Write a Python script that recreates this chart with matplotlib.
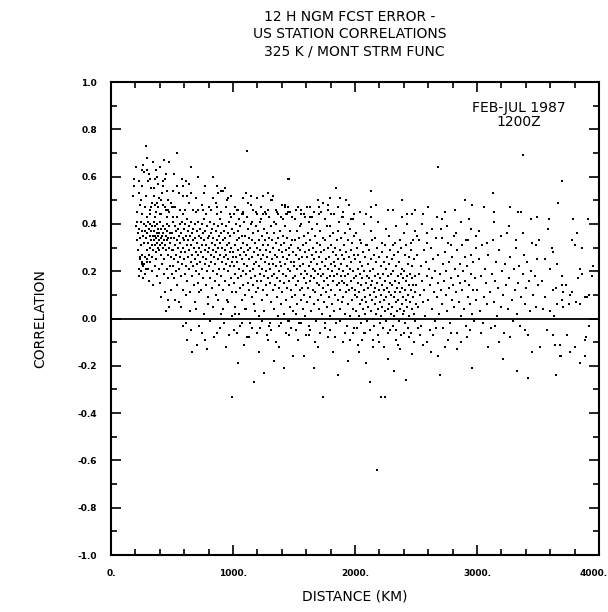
import numpy as np
import matplotlib
matplotlib.use("Agg")
import matplotlib.pyplot as plt
from matplotlib.ticker import MultipleLocator
from matplotlib.transforms import ScaledTranslation

# station pairs: (distance km, correlation), grouped by distance band
band_0500 = [
    (287, .73), (205, .64), (265, .65), (254, .63), (292, .63), (369, .63), (402, .64), (292, .68),
    (342, .66), (437, .67), (478, .66), (189, .59), (232, .58), (306, .58), (320, .59), (358, .59),
    (374, .60), (429, .58), (440, .59), (189, .56), (325, .55), (352, .55), (424, .56), (178, .52),
    (232, .53), (352, .52), (461, .54), (281, .47), (325, .47), (361, .48), (380, .49), (407, .50),
    (443, .47), (470, .46), (320, .44), (361, .43), (402, .44), (457, .43),
    (214, .45), (236, .48), (256, .44), (276, .47), (296, .43), (318, .46), (338, .49), (368, .45),
    (384, .47), (408, .44), (426, .48), (448, .46), (476, .45), (490, .49), (244, .50), (286, .52),
    (396, .51), (418, .53), (466, .50), (254, .56), (272, .62), (314, .61), (388, .57), (454, .61),
    (203, .39), (209, .33), (215, .41), (221, .36), (224, .29), (231, .38), (236, .34), (239, .25),
    (243, .41), (247, .31), (250, .23), (255, .37), (258, .27), (261, .35), (264, .22), (269, .40),
    (271, .32), (276, .26), (279, .37), (283, .21), (285, .34), (289, .39), (293, .29), (296, .24),
    (299, .36), (303, .41), (306, .32), (309, .27), (313, .38), (316, .35), (319, .30), (323, .40),
    (327, .33), (330, .37), (333, .26), (336, .31), (340, .39), (343, .35), (346, .29), (349, .41),
    (352, .33), (355, .37), (358, .31), (361, .35), (364, .39), (367, .28), (370, .34), (373, .36),
    (376, .32), (379, .40), (382, .30), (385, .35), (388, .38), (391, .33), (394, .29), (397, .36),
    (400, .41), (404, .31), (407, .34), (410, .38), (413, .27), (417, .35), (420, .32), (423, .39),
    (427, .30), (430, .36), (433, .33), (437, .25), (440, .38), (444, .31), (447, .35), (451, .29),
    (455, .40), (458, .33), (462, .37), (466, .27), (469, .34), (473, .30), (477, .39), (481, .32),
    (485, .36), (489, .26), (493, .34), (497, .29),
    (226, .21), (233, .18), (241, .26), (249, .20), (256, .24), (263, .17), (272, .23), (281, .19),
    (291, .25), (302, .21), (311, .16), (321, .24), (334, .20), (344, .14), (357, .22), (369, .25),
    (378, .18), (393, .21), (405, .15), (419, .23), (431, .19), (446, .11), (457, .21), (463, .08),
    (471, .17), (479, .05), (486, .22), (494, .12), (499, .19), (452, .03), (412, .09),
]

band_1000 = [
    (543, .70), (519, .61), (579, .59), (615, .58), (642, .57), (716, .60), (839, .60), (653, .64),
    (539, .56), (588, .56), (768, .56), (880, .53), (899, .54), (932, .55), (505, .54), (560, .53),
    (593, .52), (653, .53), (697, .51), (961, .51), (497, .47), (525, .47), (566, .46), (607, .46),
    (675, .46), (716, .46), (757, .46), (806, .47), (866, .47), (871, .44), (975, .44), (511, .43),
    (539, .43), (520, .47), (590, .44), (640, .49), (700, .45), (742, .48), (780, .44), (820, .46),
    (860, .49), (900, .45), (940, .47), (980, .43), (620, .52), (760, .53), (840, .51), (920, .54),
    (980, .52), (870, .56), (950, .50),
    (502, .36), (505, .22), (508, .41), (511, .29), (514, .17), (517, .34), (520, .25), (523, .39),
    (526, .31), (529, .20), (532, .37), (535, .27), (538, .43), (541, .33), (544, .14), (547, .24),
    (550, .38), (553, .30), (556, .21), (559, .35), (562, .40), (565, .26), (568, .32), (571, .18),
    (574, .36), (577, .28), (580, .41), (583, .23), (586, .34), (589, .30), (592, .12), (595, .38),
    (598, .25), (601, .33), (604, .19), (607, .40), (610, .28), (613, .35), (616, .22), (619, .31),
    (622, .42), (625, .16), (628, .37), (631, .26), (634, .33), (637, .21), (640, .39), (643, .29),
    (646, .35), (649, .11), (652, .24), (655, .41), (658, .31), (661, .18), (664, .36), (667, .27),
    (670, .33), (673, .22), (676, .38), (679, .14), (682, .30), (685, .25), (688, .40), (691, .34),
    (694, .20), (697, .28), (701, .37), (704, .23), (707, .32), (710, .15), (713, .41), (716, .27),
    (719, .35), (722, .19), (725, .30), (728, .38), (731, .24), (734, .12), (737, .34), (740, .28),
    (743, .40), (746, .21), (749, .31), (752, .36), (755, .17), (758, .26), (761, .33), (764, .42),
    (767, .23), (770, .29), (773, .37), (776, .14), (779, .31), (782, .25), (785, .39), (788, .20),
    (791, .34), (794, .28), (797, .09), (801, .35), (804, .22), (807, .30), (810, .41), (813, .17),
    (816, .27), (819, .36), (822, .24), (825, .32), (828, .13), (831, .38), (834, .29), (837, .20),
    (840, .34), (843, .26), (846, .40), (849, .16), (852, .31), (855, .23), (858, .37), (861, .28),
    (864, .10), (867, .33), (870, .19), (873, .39), (876, .25), (879, .30), (882, .14), (885, .35),
    (888, .21), (891, .42), (894, .27), (897, .32), (901, .18), (904, .36), (907, .24), (910, .30),
    (913, .40), (916, .12), (919, .33), (922, .26), (925, .21), (928, .37), (931, .29), (934, .16),
    (937, .34), (940, .23), (943, .39), (946, .27), (949, .08), (952, .31), (955, .20), (958, .36),
    (961, .25), (964, .14), (967, .32), (970, .41), (973, .22), (976, .28), (979, .35), (982, .17),
    (985, .30), (988, .24), (991, .38), (994, .11), (997, .26),
    (528, .08), (574, .05), (612, .10), (648, .03), (688, .07), (724, .11), (762, .02), (798, .06),
    (836, .05), (878, .08), (918, .04), (958, .07), (990, .01), (556, .07), (700, .04), (905, .02),
    (586, -.03), (626, -.09), (664, -.14), (702, -.11), (744, -.06), (786, -.13), (842, -.08),
    (896, -.04), (944, -.12), (990, -.33), (612, -.02), (655, -.05), (718, -.03), (771, -.09),
    (809, -.01), (865, -.06), (925, -.02), (968, -.07),
]

band_1500 = [
    (1112, .71), (1084, .51), (1148, .52), (1249, .52), (1289, .53), (1317, .50), (1399, .48),
    (1453, .59), (1016, .47), (1043, .46), (1084, .44), (1145, .48), (1167, .46), (1243, .44),
    (1289, .46), (1358, .45), (1426, .47), (1440, .44), (1434, .44), (1459, .59), (1453, .47),
    (1030, .46), (1070, .44), (1120, .49), (1190, .45), (1230, .47), (1270, .44), (1310, .50),
    (1350, .46), (1390, .43), (1430, .48), (1470, .45), (1110, .53), (1200, .51), (1330, .52),
    (1012, .44), (1047, .42), (1081, .45), (1118, .43), (1156, .41), (1193, .44), (1226, .42),
    (1262, .45), (1299, .43), (1336, .41), (1372, .44), (1411, .42), (1447, .45), (1486, .43),
    (1001, .28), (1004, .15), (1007, .36), (1010, .22), (1013, .05), (1016, .31), (1019, .19),
    (1022, .40), (1025, .26), (1028, .11), (1031, .33), (1034, .24), (1037, .17), (1040, .37),
    (1043, .29), (1046, .02), (1049, .21), (1052, .34), (1055, .13), (1058, .27), (1061, .39),
    (1064, .18), (1067, .30), (1070, .08), (1073, .25), (1076, .35), (1079, .20), (1082, .14),
    (1085, .32), (1088, .41), (1091, .23), (1094, .28), (1097, .10), (1101, .35), (1104, .19),
    (1107, .27), (1110, .04), (1113, .31), (1116, .22), (1119, .38), (1122, .15), (1125, .29),
    (1128, .25), (1131, .12), (1134, .34), (1137, .20), (1140, -.02), (1143, .30), (1146, .17),
    (1149, .40), (1152, .26), (1155, .09), (1158, .33), (1161, .21), (1164, .36), (1167, .14),
    (1170, .28), (1173, .23), (1176, .06), (1179, .32), (1182, .18), (1185, .39), (1188, .24),
    (1191, .11), (1194, .30), (1197, .16), (1201, .27), (1204, .37), (1207, .13), (1210, .22),
    (1213, .33), (1216, .01), (1219, .19), (1222, .29), (1225, .41), (1228, .16), (1231, .25),
    (1234, .08), (1237, .35), (1240, .21), (1243, .31), (1246, .12), (1249, .27), (1252, .38),
    (1255, .18), (1258, .03), (1261, .24), (1264, .33), (1267, .14), (1270, .29), (1273, .20),
    (1276, .36), (1279, .10), (1282, .26), (1285, .31), (1288, .17), (1291, -.03), (1294, .23),
    (1297, .34), (1301, .15), (1304, .28), (1307, .21), (1310, .39), (1313, .07), (1316, .25),
    (1319, .33), (1322, .18), (1325, .12), (1328, .30), (1331, .23), (1334, .36), (1337, .04),
    (1340, .19), (1343, .27), (1346, .14), (1349, .32), (1352, .22), (1355, .40), (1358, .09),
    (1361, .26), (1364, .17), (1367, .34), (1370, .01), (1373, .20), (1376, .29), (1379, .13),
    (1382, .24), (1385, .37), (1388, .16), (1391, .31), (1394, .06), (1397, .22), (1401, .28),
    (1404, .11), (1407, .35), (1410, .19), (1413, .26), (1416, .02), (1419, .32), (1422, .15),
    (1425, .23), (1428, .39), (1431, .08), (1434, .29), (1437, .18), (1440, .25), (1443, .13),
    (1446, .34), (1449, -.01), (1452, .21), (1455, .30), (1458, .16), (1461, .27), (1464, .05),
    (1467, .37), (1470, .20), (1473, .12), (1476, .31), (1479, .24), (1482, .09), (1485, .33),
    (1488, .17), (1491, .28), (1494, .03), (1497, .22),
    (1020, .02), (1060, -.03), (1100, .04), (1180, .03), (1220, -.04), (1300, -.02), (1380, -.03),
    (1460, -.01), (1004, -.05), (1040, -.19), (1090, -.11), (1130, -.08), (1170, -.27),
    (1210, -.14), (1250, -.23), (1290, -.09), (1340, -.18), (1380, -.12), (1420, -.21),
    (1460, -.07), (1490, -.16), (1035, -.06), (1075, -.02), (1115, -.08), (1155, -.04),
    (1195, -.06), (1235, -.01), (1275, -.07), (1315, -.05), (1355, -.10), (1395, -.02),
    (1435, -.06), (1475, -.04),
]

band_2000 = [
    (1844, .55), (1795, .51), (1694, .50), (1535, .47), (1555, .46), (1604, .47), (1631, .47),
    (1708, .47), (1781, .48), (1781, .46), (1590, .43), (1631, .43), (1708, .44), (1893, .43),
    (1967, .42), (1520, .46), (1560, .44), (1660, .45), (1740, .49), (1800, .44), (1860, .47),
    (1900, .45), (1950, .48), (1990, .44), (1880, .51), (1930, .50),
    (1512, .42), (1547, .39), (1583, .44), (1619, .41), (1650, .43), (1688, .40), (1721, .45),
    (1757, .42), (1792, .39), (1831, .44), (1869, .41), (1905, .43), (1944, .40), (1983, .42),
    (1501, .24), (1504, .10), (1507, .33), (1510, .18), (1513, .02), (1516, .27), (1519, .14),
    (1522, .37), (1525, .21), (1528, .06), (1531, .30), (1534, .16), (1537, .25), (1540, -.02),
    (1543, .34), (1546, .12), (1549, .22), (1552, .29), (1555, .08), (1558, .19), (1561, .40),
    (1564, .26), (1567, .13), (1570, .31), (1573, .04), (1576, .23), (1579, .17), (1582, .35),
    (1585, .10), (1588, .28), (1591, .20), (1594, .01), (1597, .15), (1601, .32), (1604, .19),
    (1607, .07), (1610, .26), (1613, .36), (1616, .13), (1619, .22), (1622, -.03), (1625, .29),
    (1628, .16), (1631, .09), (1634, .33), (1637, .24), (1640, .18), (1643, .03), (1646, .27),
    (1649, .38), (1652, .12), (1655, .21), (1658, .30), (1661, .06), (1664, .17), (1667, .25),
    (1670, .35), (1673, .11), (1676, .20), (1679, -.01), (1682, .28), (1685, .15), (1688, .23),
    (1691, .32), (1694, .08), (1697, .19), (1701, .26), (1704, .04), (1707, .14), (1710, .31),
    (1713, .21), (1716, .37), (1719, .10), (1722, .18), (1725, .28), (1728, .02), (1731, .24),
    (1734, .13), (1737, .34), (1740, .19), (1743, .07), (1746, .29), (1749, .16), (1752, .22),
    (1755, -.04), (1758, .33), (1761, .11), (1764, .25), (1767, .17), (1770, .39), (1773, .05),
    (1776, .21), (1779, .30), (1782, .14), (1785, .26), (1788, .09), (1791, .35), (1794, .18),
    (1797, .01), (1801, .23), (1804, .31), (1807, .12), (1810, .20), (1813, .06), (1816, .28),
    (1819, .16), (1822, .36), (1825, .24), (1828, .03), (1831, .18), (1834, .30), (1837, .10),
    (1840, .22), (1843, .27), (1846, -.02), (1849, .14), (1852, .33), (1855, .19), (1858, .08),
    (1861, .25), (1864, .37), (1867, .15), (1870, .21), (1873, .04), (1876, .29), (1879, .12),
    (1882, .18), (1885, .34), (1888, .23), (1891, .07), (1894, .27), (1897, .16), (1901, .20),
    (1904, .09), (1907, .31), (1910, .15), (1913, .25), (1916, .02), (1919, .36), (1922, .18),
    (1925, .11), (1928, .28), (1931, .22), (1934, -.03), (1937, .14), (1940, .33), (1943, .19),
    (1946, .06), (1949, .26), (1952, .12), (1955, .38), (1958, .21), (1961, .01), (1964, .29),
    (1967, .16), (1970, .24), (1973, .08), (1976, .32), (1979, .13), (1982, .20), (1985, .04),
    (1988, .27), (1991, .17), (1994, .35), (1997, .10),
    (1530, -.09), (1580, -.16), (1620, -.07), (1660, -.21), (1700, -.12), (1740, -.33),
    (1780, -.08), (1820, -.14), (1860, -.24), (1900, -.10), (1940, -.18), (1980, -.06),
    (1515, -.05), (1555, -.02), (1595, -.07), (1635, -.05), (1675, -.10), (1715, -.06),
    (1755, -.02), (1795, -.05), (1835, -.08), (1875, -.01), (1915, -.06), (1955, -.09),
    (1995, -.04),
]

band_2500 = [
    (2128, .54), (2388, .50), (2169, .48), (2268, .46), (2314, .46), (2044, .45), (2087, .44),
    (2128, .43), (2388, .43), (2470, .44), (2489, .46), (2040, .45), (2130, .47), (2430, .44),
    (2010, .36), (2040, .33), (2070, .40), (2100, .31), (2130, .37), (2160, .34), (2190, .41),
    (2220, .32), (2250, .38), (2280, .35), (2310, .31), (2340, .39), (2370, .33), (2400, .36),
    (2430, .40), (2460, .32), (2490, .37),
    (2001, .12), (2004, .25), (2007, .03), (2010, .18), (2013, .30), (2016, -.04), (2019, .09),
    (2022, .21), (2025, .15), (2028, .27), (2031, .01), (2034, .11), (2037, .19), (2040, .06),
    (2043, .24), (2046, .32), (2049, .14), (2052, -.02), (2055, .08), (2058, .22), (2061, .17),
    (2064, .04), (2067, .28), (2070, .12), (2073, -.06), (2076, .20), (2079, .09), (2082, .26),
    (2085, .02), (2088, .15), (2091, .31), (2094, .07), (2097, .18), (2101, -.01), (2104, .13),
    (2107, .23), (2110, .05), (2113, .17), (2116, .29), (2119, .10), (2122, -.05), (2125, .20),
    (2128, .03), (2131, .14), (2134, .25), (2137, .08), (2140, .33), (2143, .16), (2146, .00),
    (2149, .21), (2152, .11), (2155, -.03), (2158, .27), (2161, .06), (2164, .18), (2167, .13),
    (2170, .02), (2173, .24), (2176, .09), (2179, .30), (2182, .15), (2185, -.07), (2188, .19),
    (2191, .04), (2194, .12), (2197, .26), (2201, .07), (2204, .17), (2207, -.02), (2210, .22),
    (2213, .10), (2216, .01), (2219, .28), (2222, .14), (2225, .05), (2228, .19), (2231, -.04),
    (2234, .24), (2237, .08), (2240, .12), (2243, .31), (2246, .03), (2249, .16), (2252, .21),
    (2255, -.01), (2258, .09), (2261, .26), (2264, .13), (2267, .04), (2270, .18), (2273, -.06),
    (2276, .11), (2279, .23), (2282, .06), (2285, .15), (2288, .29), (2291, .02), (2294, .19),
    (2297, .10), (2301, .25), (2304, .05), (2307, .14), (2310, -.03), (2313, .20), (2316, .09),
    (2319, .27), (2322, .01), (2325, .16), (2328, .11), (2331, .32), (2334, -.05), (2337, .07),
    (2340, .22), (2343, .13), (2346, .03), (2349, .18), (2352, .28), (2355, .08), (2358, -.01),
    (2361, .15), (2364, .24), (2367, .04), (2370, .11), (2373, .19), (2376, -.07), (2379, .30),
    (2382, .06), (2385, .13), (2388, .21), (2391, .02), (2394, .17), (2397, .09), (2401, .20),
    (2404, .03), (2407, .27), (2410, .12), (2413, -.02), (2416, .16), (2419, .08), (2422, .31),
    (2425, .05), (2428, .18), (2431, .23), (2434, -.04), (2437, .10), (2440, .14), (2443, .26),
    (2446, .01), (2449, .19), (2452, .07), (2455, .29), (2458, .12), (2461, -.06), (2464, .17),
    (2467, .04), (2470, .22), (2473, .09), (2476, .33), (2479, .14), (2482, .02), (2485, .25),
    (2488, .11), (2491, -.01), (2494, .18), (2497, .06),
    (2030, -.14), (2090, -.19), (2150, -.12), (2180, -.64), (2210, -.33), (2245, -.33),
    (2270, -.17), (2320, -.22), (2370, -.13), (2420, -.26), (2470, -.15), (2120, -.27),
    (2060, -.09), (2200, -.10), (2340, -.09), (2440, -.08), (2025, -.11), (2085, -.06),
    (2145, -.09), (2235, -.12), (2285, -.05), (2355, -.11), (2405, -.06), (2485, -.10),
]

band_3000 = [
    (2680, .64), (2904, .50), (2959, .48), (2740, .45), (2598, .47), (2710, .42), (2937, .42),
    (2560, .44), (2820, .46),
    (2510, .35), (2550, .40), (2590, .32), (2630, .38), (2670, .43), (2710, .34), (2750, .39),
    (2790, .31), (2830, .36), (2870, .41), (2910, .33), (2950, .38), (2990, .35),
    (2503, .14), (2509, .27), (2515, .05), (2521, .19), (2527, .33), (2533, .10), (2539, -.03),
    (2545, .22), (2551, .16), (2557, .07), (2563, .29), (2569, .12), (2575, .01), (2581, .24),
    (2587, .18), (2593, .36), (2599, .08), (2605, .21), (2611, -.05), (2617, .14), (2623, .30),
    (2629, .04), (2635, .17), (2641, .25), (2647, .11), (2653, -.01), (2659, .20), (2665, .34),
    (2671, .09), (2677, .15), (2683, .27), (2689, .02), (2695, .19), (2701, .12), (2707, .38),
    (2713, .06), (2719, .23), (2725, -.04), (2731, .16), (2737, .28), (2743, .10), (2749, .20),
    (2755, .03), (2761, .32), (2767, .13), (2773, .24), (2779, -.02), (2785, .17), (2791, .08),
    (2797, .26), (2803, .14), (2809, .35), (2815, .05), (2821, .21), (2827, .11), (2833, -.06),
    (2839, .29), (2845, .18), (2851, .07), (2857, .23), (2863, .15), (2869, .01), (2875, .31),
    (2881, .12), (2887, .20), (2893, .04), (2899, .26), (2905, .16), (2911, -.03), (2917, .22),
    (2923, .09), (2929, .33), (2935, .14), (2941, .06), (2947, .19), (2953, .27), (2959, .02),
    (2965, .12), (2971, .24), (2977, -.01), (2983, .17), (2989, .30), (2995, .08),
    (2520, -.04), (2560, -.11), (2640, -.07), (2680, -.16), (2760, -.09), (2840, -.13),
    (2920, -.08), (2960, -.21), (2700, -.24), (2620, -.14), (2535, -.07), (2590, -.10),
    (2660, -.04), (2735, -.12), (2790, -.06), (2870, -.10), (2945, -.05),
]

band_3500 = [
    (3380, .69), (3128, .53), (3270, .47), (3339, .45), (3363, .45), (3142, .45), (3494, .43),
    (3060, .47),
    (3020, .37), (3080, .32), (3140, .41), (3200, .35), (3260, .39), (3320, .33), (3380, .36),
    (3440, .42), (3480, .31),
    (3004, .12), (3013, .25), (3022, .03), (3031, .18), (3040, .31), (3049, -.02), (3058, .09),
    (3067, .21), (3076, .15), (3085, .06), (3094, .27), (3103, .11), (3112, -.04), (3121, .19),
    (3130, .33), (3139, .07), (3148, .16), (3157, .24), (3166, .01), (3175, .13), (3184, .29),
    (3193, .05), (3202, .20), (3211, .10), (3220, -.06), (3229, .23), (3238, .14), (3247, .36),
    (3256, .04), (3265, .17), (3274, .26), (3283, .08), (3292, -.01), (3301, .21), (3310, .12),
    (3319, .30), (3328, .02), (3337, .15), (3346, .22), (3355, -.03), (3364, .09), (3373, .19),
    (3382, .27), (3391, .06), (3400, .13), (3409, .24), (3418, -.07), (3427, .16), (3436, .03),
    (3445, .20), (3454, .32), (3463, .10), (3472, .18), (3481, .05), (3490, .25), (3499, .14),
    (3030, -.06), (3090, -.12), (3150, -.03), (3210, -.17), (3270, -.08), (3330, -.22),
    (3390, -.05), (3450, -.14), (3420, -.25), (3180, -.10),
]

band_4000 = [
    (3694, .58), (3664, .49), (3593, .42), (3784, .42), (3910, .42), (3912, .42), (3817, .36),
    (3776, .33), (3803, .31), (3858, .30), (3612, .30), (3626, .28), (3653, .23), (3598, .21),
    (3844, .21), (3858, .19), (3830, .17), (3940, .18), (3948, .22), (3699, .18), (3694, .14),
    (3730, .14), (3648, .13), (3626, .12), (3708, .11), (3694, .08), (3776, .11), (3762, .10),
    (3885, .09), (3899, .09), (3921, .10), (3844, .06), (3811, .07), (3757, .06), (3708, .05),
    (3653, .06), (3598, .03), (3631, .01), (3921, -.03), (3626, -.07), (3735, -.07), (3680, -.11),
    (3639, -.11), (3893, -.08), (3885, -.09), (3803, -.12), (3762, -.14), (3680, -.16),
    (3689, -.16), (3885, -.16), (3844, -.19), (3648, -.24),
    (3510, .33), (3530, .16), (3540, .04), (3555, .25), (3570, -.05), (3585, .38), (3560, .09),
    (3520, -.12),
]

x_ticks = [0, 1000, 2000, 3000, 4000]
x_labels = ['0.', '1000.', '2000.', '3000.', '4000.']
y_ticks = [1.0, 0.8, 0.6, 0.4, 0.2, 0.0, -0.2, -0.4, -0.6, -0.8, -1.0]

bands = [band_0500, band_1000, band_1500, band_2000, band_2500, band_3000, band_3500, band_4000]
pts = np.array([p for b in bands for p in b])

fig = plt.figure(figsize=(6.08, 6.12), dpi=100)
ax = fig.add_axes([0.1826, 0.0931, 0.8026, 0.7729])

ax.scatter(pts[:, 0], pts[:, 1], s=4.5, c='black', marker='s', linewidths=0)
ax.axhline(0.0, color='black', lw=1.3)

ax.set_xlim(0, 4000)
ax.set_ylim(-1.0, 1.0)
ax.set_xticks(x_ticks)
ax.set_xticklabels(x_labels)
ax.xaxis.set_minor_locator(MultipleLocator(200))
ax.set_yticks(y_ticks)
ax.set_yticklabels(['%.1f' % v for v in y_ticks])
ax.yaxis.set_minor_locator(MultipleLocator(0.1))
ax.tick_params(which='both', direction='in', top=True, right=True, width=1.2, color='black')
ax.tick_params(which='major', length=7)
ax.tick_params(which='minor', length=4)
ax.tick_params(axis='x', labelsize=6.5, pad=10)
ax.tick_params(axis='y', labelsize=6.5, pad=10)
for lab in ax.get_xticklabels() + ax.get_yticklabels():
    lab.set_fontweight('bold')
# last distance label sits flush against the right edge
last = ax.get_xticklabels()[-1]
last.set_ha('right')
last.set_transform(last.get_transform() + ScaledTranslation(6 / 72, 0, fig.dpi_scale_trans))
for sp in ax.spines.values():
    sp.set_linewidth(1.5)

ax.set_xlabel('DISTANCE (KM)', fontsize=10, labelpad=8)
ax.set_ylabel('CORRELATION', fontsize=10, labelpad=22)

fig.text(0.575, 0.972, '12 H NGM FCST ERROR -', ha='center', va='center', fontsize=10)
fig.text(0.575, 0.944, 'US STATION CORRELATIONS', ha='center', va='center', fontsize=10)
fig.text(0.583, 0.916, '325 K / MONT STRM FUNC', ha='center', va='center', fontsize=10)

ax.text(0.835, 0.945, 'FEB-JUL 1987', transform=ax.transAxes, ha='center', va='center', fontsize=10)
ax.text(0.835, 0.915, '1200Z', transform=ax.transAxes, ha='center', va='center', fontsize=10)

fig.savefig('out.png', dpi=100, facecolor='white')
